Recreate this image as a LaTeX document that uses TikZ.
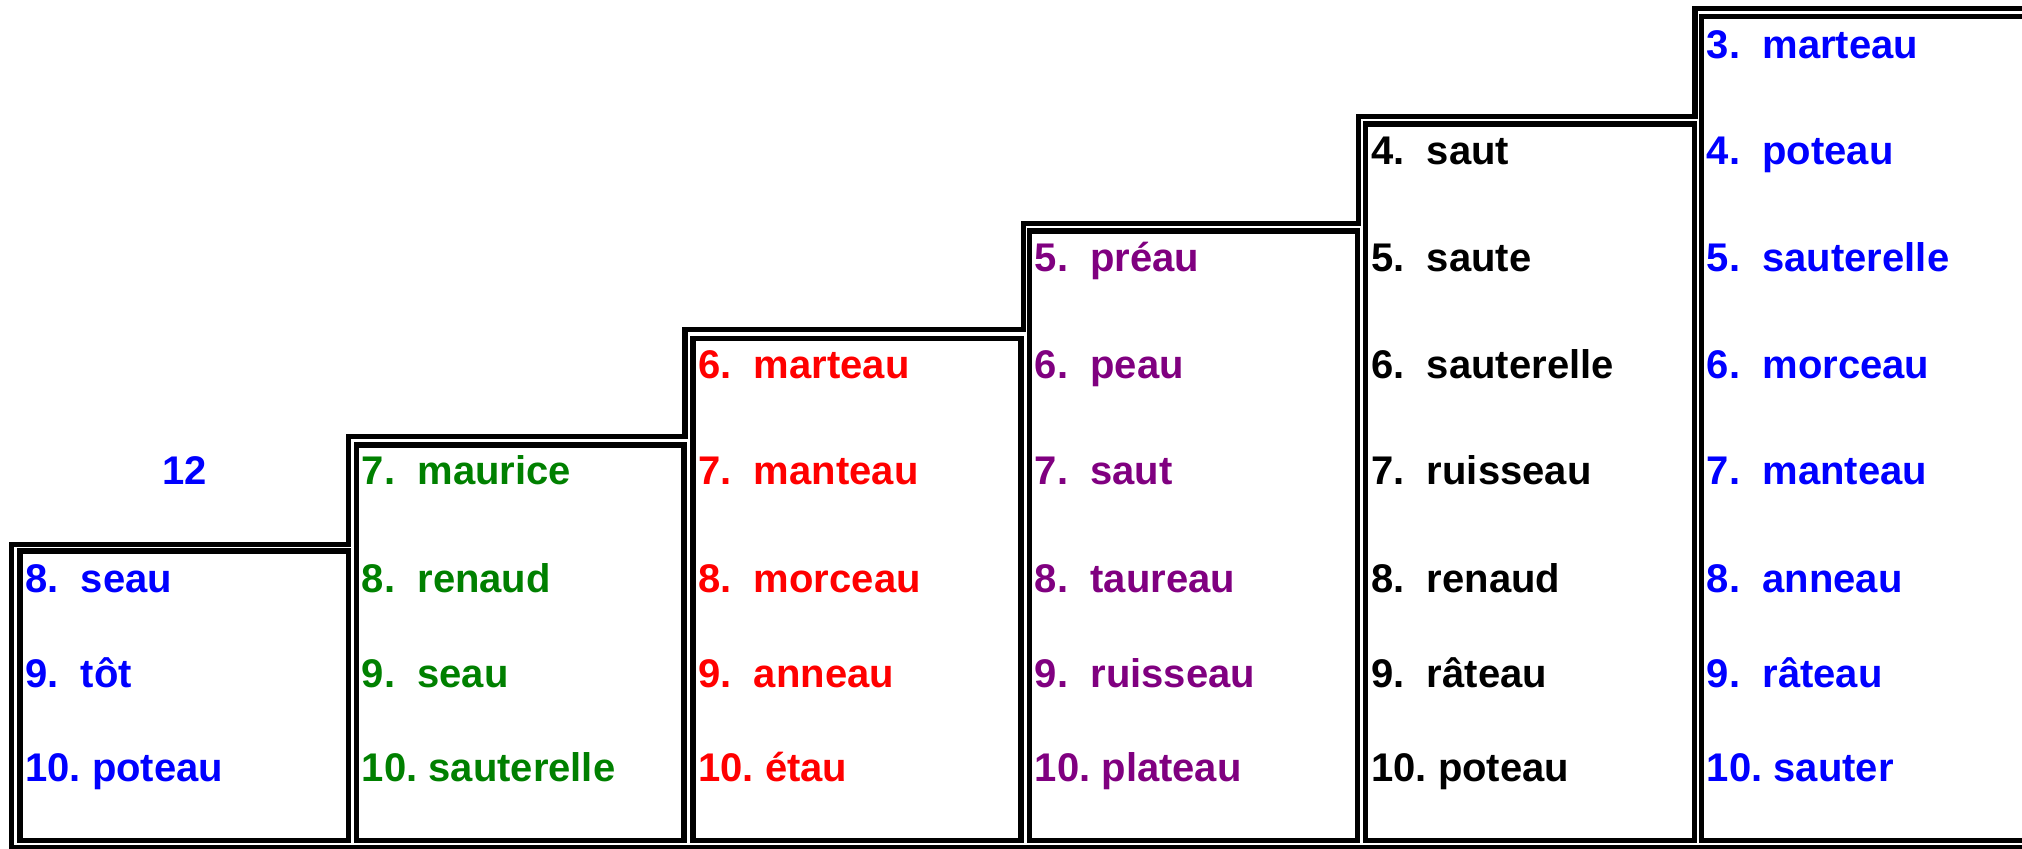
\documentclass[tikz,border=0pt]{standalone}
\usepackage{fontspec}
\setmainfont{Liberation Sans}
\frenchspacing
\definecolor{cblue}{RGB}{0,0,255}
\definecolor{cgreen}{RGB}{0,128,0}
\definecolor{cred}{RGB}{255,0,0}
\definecolor{cpurple}{RGB}{128,0,128}
\tikzset{
  lbl/.style={anchor=base west, inner sep=0pt, font=\fontsize{20pt}{24pt}\selectfont\bfseries},
  cellframe/.style={line width=2.6pt, draw=black, line join=miter},
}
\begin{document}
\begin{tikzpicture}[x=0.5pt,y=-0.5pt]
\useasboundingbox (0,0) rectangle (2022,849);
\clip (0,0) rectangle (2022,849);
% outer staircase outline
\draw[cellframe] (2040,847.5) -- (11.5,847.5) -- (11.5,544.5) -- (348.5,544.5) -- (348.5,436.5)
  -- (685,436.5) -- (685,329.5) -- (1023.5,329.5) -- (1023.5,223.5) -- (1358.5,223.5)
  -- (1358.5,116.5) -- (1695,116.5) -- (1695,8.5) -- (2040,8.5);
% cells
\draw[cellframe] (20,551) rectangle (348.5,840.5);
\draw[cellframe] (356.5,445) rectangle (684,840.5);
\draw[cellframe] (693,338.5) rectangle (1021,840.5);
\draw[cellframe] (1029.5,231) rectangle (1357.5,840.5);
\draw[cellframe] (1365.5,124) rectangle (1694.5,840.5);
\draw[cellframe] (1701.5,16.5) rectangle (2040,840.5);
% column 1
\node[lbl, anchor=base, text=cblue] (n12) at (184.5,485) {12};
\node[lbl, text=cblue] (a8) at (25,592) {8.\ \ seau};
\node[lbl, text=cblue] (a9) at (25,687) {9.\ \ tôt};
\node[lbl, text=cblue] (a10) at (25,781.7) {10. poteau};
% column 2
\node[lbl, text=cgreen] (b7) at (361.5,485) {7.\ \ maurice};
\node[lbl, text=cgreen] (b8) at (361.5,592) {8.\ \ renaud};
\node[lbl, text=cgreen] (b9) at (361.5,687) {9.\ \ seau};
\node[lbl, text=cgreen] (b10) at (361.5,781.7) {10. sauterelle};
% column 3
\node[lbl, text=cred] (c6) at (698,378.3) {6.\ \ marteau};
\node[lbl, text=cred] (c7) at (698,485) {7.\ \ manteau};
\node[lbl, text=cred] (c8) at (698,592) {8.\ \ morceau};
\node[lbl, text=cred] (c9) at (698,687) {9.\ \ anneau};
\node[lbl, text=cred] (c10) at (698,781.7) {10. étau};
% column 4
\node[lbl, text=cpurple] (d5) at (1034.5,271.7) {5.\ \ préau};
\node[lbl, text=cpurple] (d6) at (1034.5,378.3) {6.\ \ peau};
\node[lbl, text=cpurple] (d7) at (1034.5,485) {7.\ \ saut};
\node[lbl, text=cpurple] (d8) at (1034.5,592) {8.\ \ taureau};
\node[lbl, text=cpurple] (d9) at (1034.5,687) {9.\ \ ruisseau};
\node[lbl, text=cpurple] (d10) at (1034.5,781.7) {10. plateau};
% column 5
\node[lbl, text=black] (e4) at (1371,165) {4.\ \ saut};
\node[lbl, text=black] (e5) at (1371,271.7) {5.\ \ saute};
\node[lbl, text=black] (e6) at (1371,378.3) {6.\ \ sauterelle};
\node[lbl, text=black] (e7) at (1371,485) {7.\ \ ruisseau};
\node[lbl, text=black] (e8) at (1371,592) {8.\ \ renaud};
\node[lbl, text=black] (e9) at (1371,687) {9.\ \ râteau};
\node[lbl, text=black] (e10) at (1371,781.7) {10. poteau};
% column 6
\node[lbl, text=cblue] (f3) at (1706.5,58.3) {3.\ \ marteau};
\node[lbl, text=cblue] (f4) at (1706.5,165) {4.\ \ poteau};
\node[lbl, text=cblue] (f5) at (1706.5,271.7) {5.\ \ sauterelle};
\node[lbl, text=cblue] (f6) at (1706.5,378.3) {6.\ \ morceau};
\node[lbl, text=cblue] (f7) at (1706.5,485) {7.\ \ manteau};
\node[lbl, text=cblue] (f8) at (1706.5,592) {8.\ \ anneau};
\node[lbl, text=cblue] (f9) at (1706.5,687) {9.\ \ râteau};
\node[lbl, text=cblue] (f10) at (1706.5,781.7) {10. sauter};
\end{tikzpicture}
\end{document}
